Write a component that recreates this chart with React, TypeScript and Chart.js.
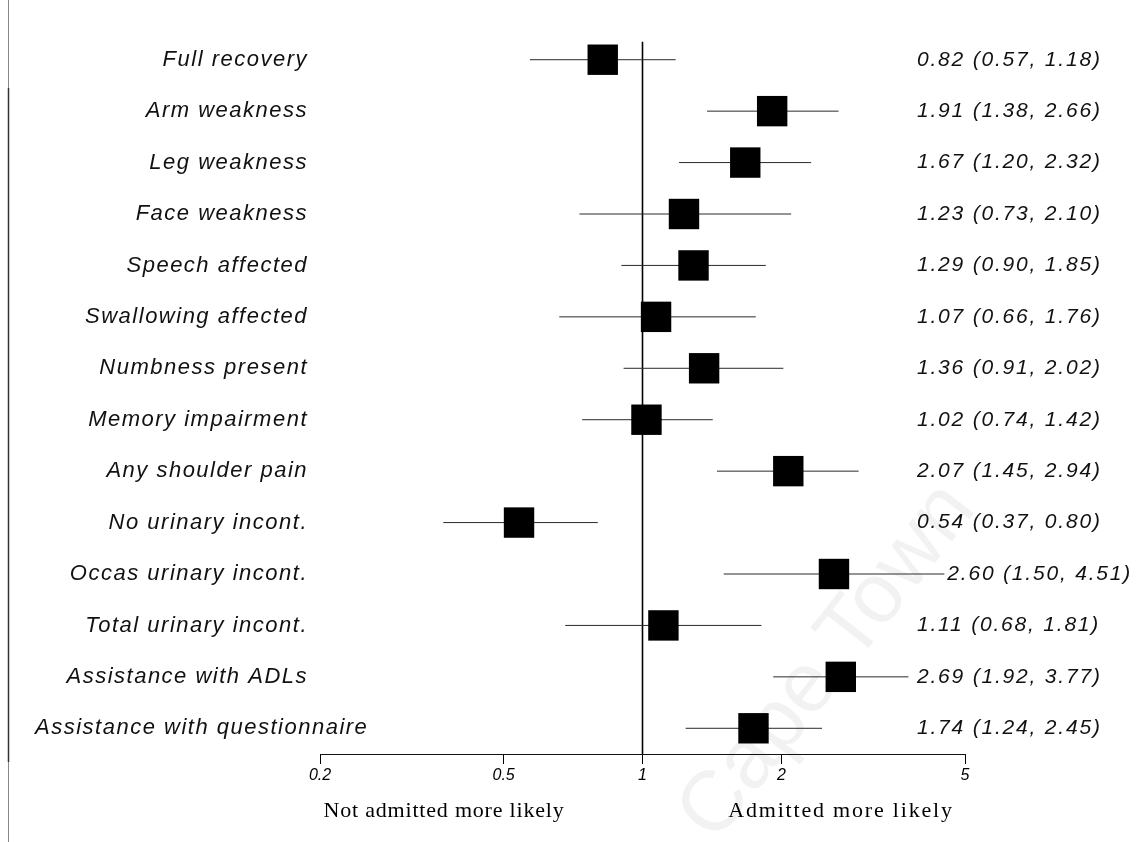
import { useEffect, useRef } from 'react';
import { Chart, registerables } from 'chart.js';

Chart.register(...registerables);

const categories = [
  'Full recovery',
  'Arm weakness',
  'Leg weakness',
  'Face weakness',
  'Speech affected',
  'Swallowing affected',
  'Numbness present',
  'Memory impairment',
  'Any shoulder pain',
  'No urinary incont.',
  'Occas urinary incont.',
  'Total urinary incont.',
  'Assistance with ADLs',
  'Assistance with questionnaire',
];
const oddsRatios = [0.82, 1.91, 1.67, 1.23, 1.29, 1.07, 1.36, 1.02, 2.07, 0.54, 2.6, 1.11, 2.69, 1.74];
const lowerCI = [0.57, 1.38, 1.2, 0.73, 0.9, 0.66, 0.91, 0.74, 1.45, 0.37, 1.5, 0.68, 1.92, 1.24];
const upperCI = [1.18, 2.66, 2.32, 2.1, 1.85, 1.76, 2.02, 1.42, 2.94, 0.8, 4.51, 1.81, 3.77, 2.45];
const tickValues = [0.2, 0.5, 1, 2, 5];
const tickLabels = ['0.2', '0.5', '1', '2', '5'];
const footerLeft = 'Not admitted more likely';
const footerRight = 'Admitted more likely';
const watermark = 'Cape Town';

const SANS = '"Liberation Sans", Arial, sans-serif';
const SERIF = '"Liberation Serif", "Times New Roman", serif';

export default function App() {
  const ref = useRef<HTMLCanvasElement>(null);

  useEffect(() => {
    document.body.style.margin = '0';
    const canvas = ref.current;
    if (!canvas) return;

    const whiskers: any[] = categories.map((c, i) => ({
      type: 'line',
      label: c,
      data: [
        { x: lowerCI[i], y: i + 1 },
        { x: upperCI[i], y: i + 1 },
      ],
      borderColor: '#2a2a2a',
      borderWidth: 1,
      pointRadius: 0,
      showLine: true,
      order: 2,
    }));

    const refLine: any = {
      type: 'line',
      label: 'ref',
      data: [
        { x: 1, y: 0.65 },
        { x: 1, y: 14.5 },
      ],
      borderColor: '#000',
      borderWidth: 1.6,
      pointRadius: 0,
      showLine: true,
      order: 3,
    };

    const points: any = {
      type: 'scatter',
      label: 'OR',
      data: oddsRatios.map((v, i) => ({ x: v, y: i + 1 })),
      pointStyle: 'rect',
      pointRadius: 21.5,
      backgroundColor: '#000',
      borderColor: '#000',
      borderWidth: 0,
      order: 0,
    };

    const decor = {
      id: 'decor',
      beforeDatasetsDraw(chart: any) {
        const ctx = chart.ctx;
        ctx.save();
        ctx.translate(828, 662);
        ctx.rotate((-52 * Math.PI) / 180);
        ctx.font = `85px ${SANS}`;
        ctx.fillStyle = 'rgba(0,0,0,0.05)';
        ctx.textAlign = 'center';
        ctx.textBaseline = 'middle';
        ctx.fillText(watermark, 0, 0);
        ctx.restore();
      },
      afterDraw(chart: any) {
        const ctx = chart.ctx;
        const xs = chart.scales.x;
        const ys = chart.scales.y;
        ctx.save();
        ctx.textBaseline = 'middle';
        ctx.fillStyle = '#111';

        // category labels
        ctx.font = `italic 22px ${SANS}`;
        (ctx as any).letterSpacing = '1.5px';
        ctx.textAlign = 'right';
        categories.forEach((c, i) => {
          const py = ys.getPixelForValue(i + 1);
          const w = ctx.measureText(c).width;
          const right = Math.max(308, 35 + w);
          ctx.fillText(c, right, py);
        });

        // value labels
        ctx.font = `italic 21px ${SANS}`;
        (ctx as any).letterSpacing = '1.8px';
        ctx.textAlign = 'left';
        categories.forEach((_, i) => {
          const py = ys.getPixelForValue(i + 1);
          const txt = `${oddsRatios[i].toFixed(2)} (${lowerCI[i].toFixed(2)}, ${upperCI[i].toFixed(2)})`;
          const x0 = Math.max(917, xs.getPixelForValue(upperCI[i]) + 3);
          ctx.fillText(txt, x0, py);
        });

        // footer labels
        ctx.font = `22px ${SERIF}`;
        ctx.textAlign = 'center';
        ctx.fillStyle = '#000';
        (ctx as any).letterSpacing = '0.8px';
        ctx.fillText(footerLeft, 444, 811);
        (ctx as any).letterSpacing = '1.8px';
        ctx.fillText(footerRight, 841, 811);
        (ctx as any).letterSpacing = '0px';

        // left border line (scan edge)
        ctx.strokeStyle = '#888';
        ctx.lineWidth = 1;
        ctx.beginPath();
        ctx.moveTo(8.5, 0);
        ctx.lineTo(8.5, 842);
        ctx.stroke();
        ctx.strokeStyle = '#333';
        ctx.lineWidth = 1.5;
        ctx.beginPath();
        ctx.moveTo(8.5, 88);
        ctx.lineTo(8.5, 762);
        ctx.stroke();
        ctx.restore();
      },
    };

    const chart = new Chart(canvas, {
      type: 'scatter',
      data: { datasets: [points, ...whiskers, refLine] },
      options: {
        animation: false,
        responsive: false,
        devicePixelRatio: 1,
        layout: { padding: { left: 320, right: 182, top: 34, bottom: 28 } },
        plugins: { legend: { display: false }, tooltip: { enabled: false } },
        scales: {
          x: {
            type: 'logarithmic',
            min: 0.2,
            max: 5,
            position: 'bottom',
            afterBuildTicks: (s: any) => {
              s.ticks = tickValues.map((v) => ({ value: v }));
            },
            afterFit: (s: any) => {
              s.height = 60;
            },
            ticks: {
              autoSkip: false,
              maxRotation: 0,
              padding: 2,
              color: '#000',
              font: { family: SANS, size: 16, style: 'italic' },
              callback: (v: any) => {
                const k = tickValues.indexOf(Number(v));
                return k >= 0 ? tickLabels[k] : '';
              },
            },
            grid: { drawOnChartArea: false, drawTicks: true, tickLength: 10, color: '#000', lineWidth: 1 },
            border: { display: true, color: '#111', width: 1 },
          },
          y: { type: 'linear', min: 0.5, max: 14.5, reverse: true, display: false },
        },
      } as any,
      plugins: [decor],
    });

    return () => chart.destroy();
  }, []);

  return <canvas ref={ref} width={1147} height={842} style={{ display: 'block' }} />;
}
